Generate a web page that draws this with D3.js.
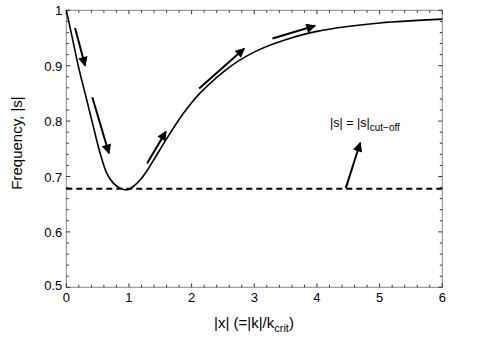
<!DOCTYPE html>
<html lang="en">
<head>
<meta charset="UTF-8">
<title>Frequency vs |x|</title>
<script src="https://d3js.org/d3.v7.min.js"></script>
<style>
    body { margin: 0; background: #fff; }
    text { font-family: "Liberation Sans", Arial, sans-serif; fill: #000; }
</style>
</head>
<body>
<svg id="chart" width="485" height="346"></svg>
<script>

// curve
const xVals = [0, 0.1, 0.19, 0.3, 0.41, 0.54, 0.645, 0.75, 0.857, 0.964, 1.07, 1.18, 1.28, 1.39, 1.6, 1.87, 2.13, 2.66, 3.08, 3.5, 4.0, 5.0, 6.0];
const sVals = [1.0, 0.948, 0.90, 0.85, 0.80, 0.742, 0.706, 0.688, 0.679, 0.676, 0.682, 0.694, 0.709, 0.729, 0.768, 0.814, 0.85, 0.902, 0.929, 0.947, 0.962, 0.977, 0.984];
const cutoff = 0.678;

// direction arrows: [x0, y0, x1, y1]
const arrows = [
    [0.14, 0.968, 0.30, 0.900],
    [0.415, 0.843, 0.68, 0.742],
    [1.29, 0.724, 1.59, 0.781],
    [2.12, 0.859, 2.84, 0.931],
    [3.29, 0.949, 3.97, 0.972],
    [4.46, 0.679, 4.69, 0.761]
];

const xTicks = [0, 1, 2, 3, 4, 5, 6];
const yTicks = [0.5, 0.6, 0.7, 0.8, 0.9, 1];

const svg = d3.select('#chart');
const mLeft = 66.3, mRight = 442.3, mTop = 10.3, mBottom = 287.3;

const x = d3.scaleLinear().domain([0, 6]).range([mLeft, mRight]);
const y = d3.scaleLinear().domain([0.5, 1]).range([mBottom, mTop]);

svg.append('defs').append('marker')
    .attr('id', 'head')
    .attr('viewBox', '0 0 10 10')
    .attr('refX', 9).attr('refY', 5)
    .attr('markerWidth', 6).attr('markerHeight', 4.8)
    .attr('markerUnits', 'strokeWidth')
    .attr('orient', 'auto')
    .append('path').attr('d', 'M0,0 L10,5 L0,10 z').attr('fill', '#000');

// frame
svg.append('rect')
    .attr('x', mLeft).attr('y', mTop)
    .attr('width', mRight - mLeft).attr('height', mBottom - mTop)
    .attr('fill', 'none').attr('stroke', '#888').attr('stroke-width', 1);

// ticks on all four sides, pointing inward
const xMinor = d3.range(0, 6.001, 0.2);
const yMinor = d3.range(0.5, 1.001, 0.02);
const tk = svg.append('g').attr('stroke', '#333').attr('stroke-width', 1);
xMinor.forEach(v => {
    const len = Math.abs(v - Math.round(v)) < 1e-6 ? 4 : 2.5;
    tk.append('line').attr('x1', x(v)).attr('x2', x(v)).attr('y1', mBottom).attr('y2', mBottom - len);
    tk.append('line').attr('x1', x(v)).attr('x2', x(v)).attr('y1', mTop).attr('y2', mTop + len);
});
yMinor.forEach(v => {
    const len = Math.abs(v * 10 - Math.round(v * 10)) < 1e-6 ? 4 : 2.5;
    tk.append('line').attr('y1', y(v)).attr('y2', y(v)).attr('x1', mLeft).attr('x2', mLeft + len);
    tk.append('line').attr('y1', y(v)).attr('y2', y(v)).attr('x1', mRight).attr('x2', mRight - len);
});

// tick labels
svg.append('g').selectAll('text').data(xTicks).join('text')
    .attr('x', d => x(d)).attr('y', mBottom + 15)
    .attr('text-anchor', 'middle').attr('font-size', 13)
    .text(d => d);
svg.append('g').selectAll('text').data(yTicks).join('text')
    .attr('x', mLeft - 4).attr('y', d => y(d) + (d === 0.5 ? 3 : 5))
    .attr('text-anchor', 'end').attr('font-size', 13)
    .text(d => d);

// cut-off line
svg.append('line')
    .attr('x1', x(0)).attr('x2', x(6))
    .attr('y1', y(cutoff)).attr('y2', y(cutoff))
    .attr('stroke', '#000').attr('stroke-width', 2)
    .attr('stroke-dasharray', '6,4');

// curve
const line = d3.line().x(d => x(d[0])).y(d => y(d[1])).curve(d3.curveCatmullRom.alpha(0.5));
svg.append('path')
    .datum(xVals.map((v, i) => [v, sVals[i]]))
    .attr('d', line)
    .attr('fill', 'none').attr('stroke', '#000').attr('stroke-width', 1.6);

// arrows
svg.append('g').selectAll('line').data(arrows).join('line')
    .attr('x1', d => x(d[0])).attr('y1', d => y(d[1]))
    .attr('x2', d => x(d[2])).attr('y2', d => y(d[3]))
    .attr('stroke', '#000').attr('stroke-width', 2)
    .attr('marker-end', 'url(#head)');

// annotation
const ann = svg.append('text').attr('x', 330).attr('y', 127).attr('font-size', 12.5);
ann.append('tspan').text('|s| = |s|');
ann.append('tspan').attr('font-size', 10).attr('dy', 4).text('cut\u2212off');

// axis titles
const xt = svg.append('text').attr('x', 254).attr('y', 328)
    .attr('text-anchor', 'middle').attr('font-size', 15);
xt.append('tspan').text('|x| (=|k|/k');
xt.append('tspan').attr('font-size', 11).attr('dy', 4).text('crit');
xt.append('tspan').attr('dy', -4).text(')');

svg.append('text')
    .attr('transform', 'translate(22,143) rotate(-90)')
    .attr('text-anchor', 'middle').attr('font-size', 15)
    .text('Frequency, |s|');

</script>
</body>
</html>
